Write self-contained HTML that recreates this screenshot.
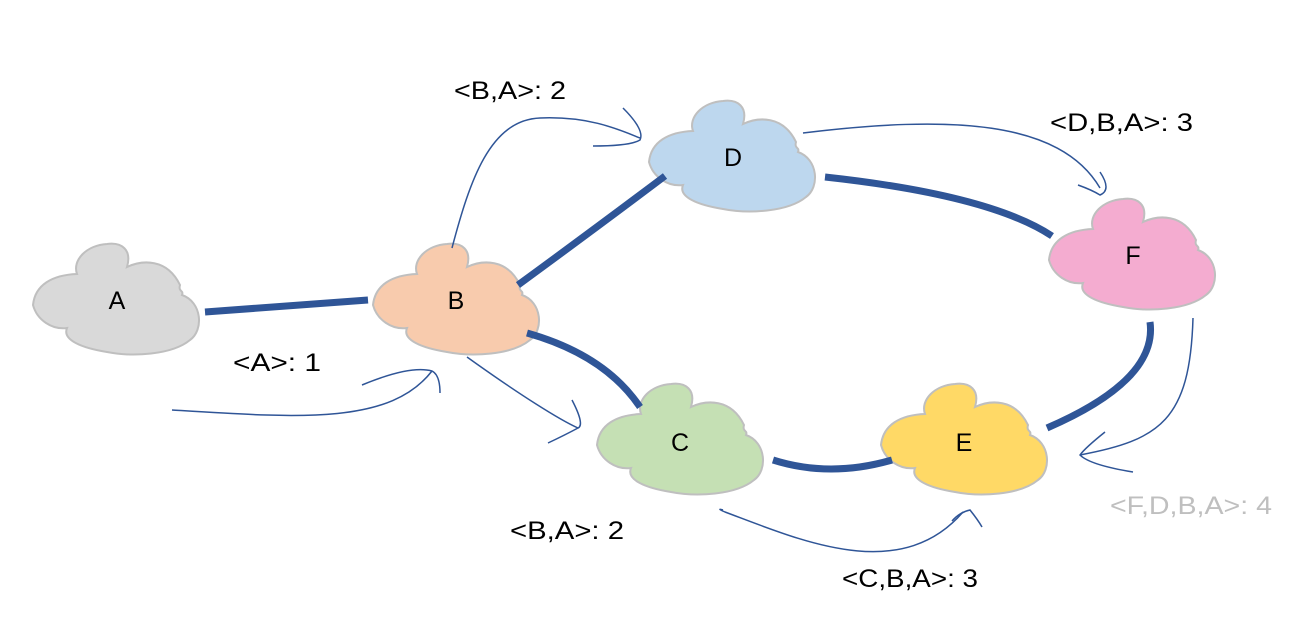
<!DOCTYPE html>
<html><head><meta charset="utf-8"><style>
html,body{margin:0;padding:0;background:#fff;}
svg{display:block;}
text{font-family:"Liberation Sans",sans-serif;}
</style></head><body>
<svg width="1297" height="623" viewBox="0 0 1297 623" xmlns="http://www.w3.org/2000/svg">
<defs>
<path id="cl" d="M1,65 C3,45 20,35 45,34 C40,20 55,5 75,4 C90,2 100,10 95,27 C110,20 135,18 148,45 C146,52 152,50 150,55 C170,62 172,90 158,100 C140,115 100,117 75,112 C50,108 30,100 35,88 C20,90 5,80 1,65 Z"/>
</defs>
<g stroke="#bfbfbf" stroke-width="2">
<use href="#cl" transform="translate(32,240)" fill="#d9d9d9"/>
<use href="#cl" transform="translate(372,240)" fill="#f8cbad"/>
<use href="#cl" transform="translate(648,97)" fill="#bdd7ee"/>
<use href="#cl" transform="translate(1048,195)" fill="#f4acd0"/>
<use href="#cl" transform="translate(596,380)" fill="#c5e0b4"/>
<use href="#cl" transform="translate(880,380)" fill="#ffd966"/>
</g>
<g fill="none" stroke="#2f5597" stroke-width="7" stroke-linecap="butt">
<path d="M205,312 L368,300"/>
<path d="M518,285 Q600,225 665,176"/>
<path d="M527,333 Q605,355 640,407"/>
<path d="M825,177 Q990,195 1052,236"/>
<path d="M773,460 Q830,478 892,460"/>
<path d="M1150,322 Q1158,380 1047,428"/>
</g>
<g fill="none" stroke="#2f5597" stroke-width="1.5">
<path d="M172,410 C300,418 390,425 432,371"/>
<path d="M362,385 Q410,365 432,371 Q440,375 440,393"/>
<path d="M452,248 C470,180 490,120 540,118 C590,116 620,130 640,138"/>
<path d="M623,108 Q645,130 640,140 Q630,146 593,146"/>
<path d="M803,133 C950,115 1060,120 1100,188"/>
<path d="M1100,172 Q1112,190 1100,195 Q1092,190 1078,185"/>
<path d="M467,357 C520,395 560,420 578,428"/>
<path d="M572,400 Q585,425 578,428 Q565,435 548,443"/>
<path d="M723,510 Q716,508 725,512 C800,540 900,585 963,512"/>
<path d="M952,521 Q960,512 970,510 Q978,520 982,527"/>
<path d="M1193,318 C1190,420 1160,440 1080,455"/>
<path d="M1105,432 Q1085,448 1080,455 Q1090,465 1133,472"/>
</g>
<g font-size="25" fill="#000" text-anchor="middle">
<text x="117" y="309">A</text>
<text x="456" y="309">B</text>
<text x="733" y="166">D</text>
<text x="1133" y="264">F</text>
<text x="680" y="451">C</text>
<text x="964" y="451">E</text>
</g>
<g font-size="25" fill="#000" lengthAdjust="spacingAndGlyphs">
<text x="454" y="99" textLength="112" lengthAdjust="spacingAndGlyphs">&lt;B,A&gt;: 2</text>
<text x="1050" y="131" textLength="143" lengthAdjust="spacingAndGlyphs">&lt;D,B,A&gt;: 3</text>
<text x="233" y="371" textLength="88" lengthAdjust="spacingAndGlyphs">&lt;A&gt;: 1</text>
<text x="510" y="539" textLength="114" lengthAdjust="spacingAndGlyphs">&lt;B,A&gt;: 2</text>
<text x="842" y="587" textLength="136" lengthAdjust="spacingAndGlyphs">&lt;C,B,A&gt;: 3</text>
<text x="1110" y="514" fill="#bfbfbf" textLength="162" lengthAdjust="spacingAndGlyphs">&lt;F,D,B,A&gt;: 4</text>
</g>
</svg>
</body></html>
